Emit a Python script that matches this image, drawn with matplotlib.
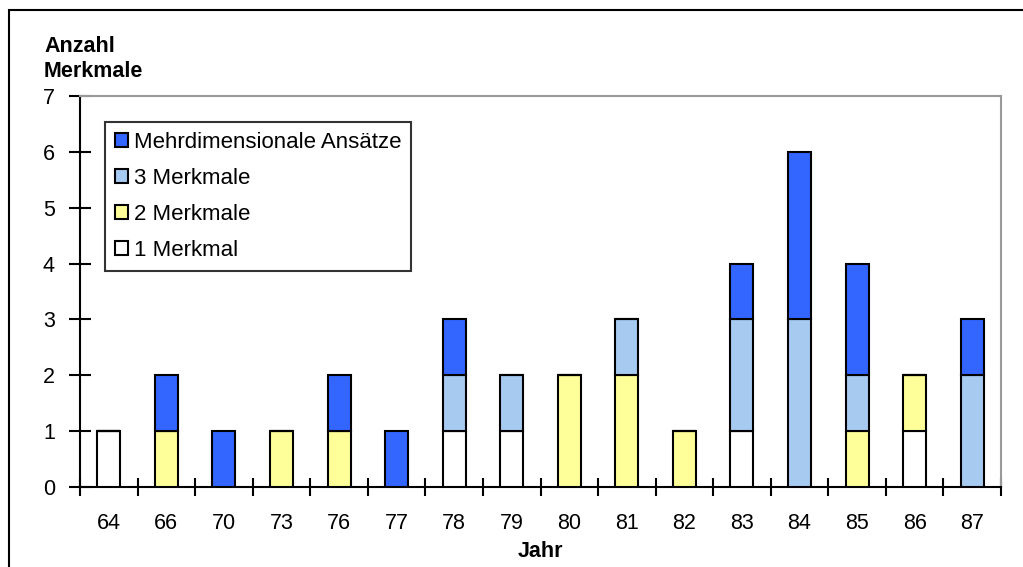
import matplotlib.pyplot as plt
from matplotlib.patches import Rectangle
import numpy as np

plt.rcParams['font.family'] = ['Liberation Sans', 'DejaVu Sans']

# Data
years = ['64', '66', '70', '73', '76', '77', '78', '79', '80', '81', '82', '83', '84', '85', '86', '87']
ein_merkmal = [1, 0, 0, 0, 0, 0, 1, 1, 0, 0, 0, 1, 0, 0, 1, 0]
zwei_merkmale = [0, 1, 0, 1, 1, 0, 0, 0, 2, 2, 1, 0, 0, 1, 1, 0]
drei_merkmale = [0, 0, 0, 0, 0, 0, 1, 1, 0, 1, 0, 2, 3, 1, 0, 2]
mehrdim = [0, 1, 1, 0, 1, 1, 1, 0, 0, 0, 0, 1, 3, 2, 0, 1]

series = [
    ('1 Merkmal', ein_merkmal, '#FFFFFF'),
    ('2 Merkmale', zwei_merkmale, '#FFFF99'),
    ('3 Merkmale', drei_merkmale, '#A6CAF0'),
    ('Mehrdimensionale Ansätze', mehrdim, '#3366FF'),
]

fig = plt.figure(figsize=(10.23, 5.67), dpi=100)
ax = fig.add_axes([0.0782, 0.1411, 0.9003, 0.6896])

x = np.arange(len(years))
bottom = np.zeros(len(years))
handles = []
for label, vals, color in series:
    b = ax.bar(x, vals, width=0.4, bottom=bottom, color=color,
               edgecolor='black', linewidth=1.5, label=label, zorder=3)
    handles.append(b)
    bottom += np.array(vals)

ax.set_xlim(-0.5, len(years) - 0.5)
ax.set_ylim(0, 7)
ax.set_yticks(range(8))
ax.set_xticks(x)
ax.set_xticklabels(years)
ax.set_xticks(np.arange(-0.5, len(years)), minor=True)
ax.tick_params(axis='x', which='major', length=0, pad=19, labelsize=15.5)
ax.tick_params(axis='x', which='minor', direction='inout', length=13, width=1.5)
ax.tick_params(axis='y', direction='inout', length=16, width=1.5, pad=10, labelsize=15.5)

for side in ['top', 'right']:
    ax.spines[side].set_color('#999999')
    ax.spines[side].set_linewidth(1.5)
for side in ['left', 'bottom']:
    ax.spines[side].set_color('black')
    ax.spines[side].set_linewidth(1.5)

ax.set_xlabel('Jahr', fontweight='bold', fontsize=15.5, labelpad=5)
fig.text(0.043, 0.855, 'Anzahl\nMerkmale', fontweight='bold', fontsize=15.5,
         ha='left', va='bottom', linespacing=1.25)

leg = ax.legend(handles[::-1], [s[0] for s in series][::-1], loc='upper left',
                bbox_to_anchor=(0.027, 0.934), borderaxespad=0, fontsize=16,
                frameon=True, fancybox=False, edgecolor='black',
                handlelength=0.6, handleheight=0.6, handletextpad=0.25,
                labelspacing=0.68, borderpad=0.45)
leg.get_frame().set_linewidth(1.5)

# outer border
fig.patches.append(Rectangle((0.009, -0.05), 1.1, 1.032, transform=fig.transFigure,
                             fill=False, edgecolor='black', linewidth=1.5))

fig.savefig('out.png', dpi=100)
